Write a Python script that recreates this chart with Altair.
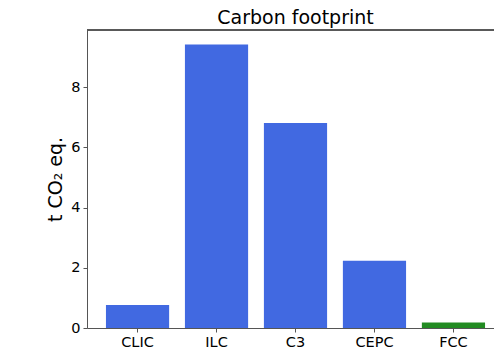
import altair as alt
import pandas as pd

categories = ["CLIC", "ILC", "C3", "CEPC", "FCC"]
values = [0.76, 9.42, 6.81, 2.23, 0.18]
colors = ["#4169E1", "#4169E1", "#4169E1", "#4169E1", "#228B22"]

df = pd.DataFrame({"collider": categories, "co2": values, "color": colors})

W, H = 407, 298
font = "DejaVu Sans"

bars = alt.Chart(df).mark_bar().encode(
    x=alt.X("collider:N", sort=categories,
            scale=alt.Scale(range=[0, 417], paddingInner=0.2, paddingOuter=0.24),
            axis=alt.Axis(title=None, labelAngle=0, labelFontSize=14.5, labelFont=font,
                          labelColor="black", tickSize=4, tickColor="#555",
                          domainColor="#555", labelPadding=3)),
    y=alt.Y("co2:Q", scale=alt.Scale(domain=[0, 9.9], nice=False, zero=True),
            axis=alt.Axis(title="t CO₂ eq.", values=[0, 2, 4, 6, 8], grid=False,
                          labelFontSize=14.5, labelFont=font, labelColor="black",
                          titleFontSize=19, titleFont=font, titleFontWeight="normal",
                          titleColor="black", titlePadding=5, tickSize=4,
                          tickColor="#555", domainColor="#555", labelPadding=3)),
    color=alt.Color("color:N", scale=None),
)

top = alt.Chart(df).mark_rule(color="#555", strokeWidth=1).encode(
    x=alt.value(0), x2=alt.value(430), y=alt.value(0)
)

chart = alt.layer(bars, top).properties(
    width=W, height=H,
    title=alt.TitleParams("Carbon footprint", fontSize=19, font=font,
                          fontWeight="normal", color="black", offset=2, anchor="middle",
                          dx=5),
    autosize=alt.AutoSizeParams(type="none"),
    padding={"left": 79, "top": 22, "right": 0, "bottom": 24},
).configure_view(stroke=None)

chart.save("out.html", embed_options={"renderer": "svg", "actions": False})
